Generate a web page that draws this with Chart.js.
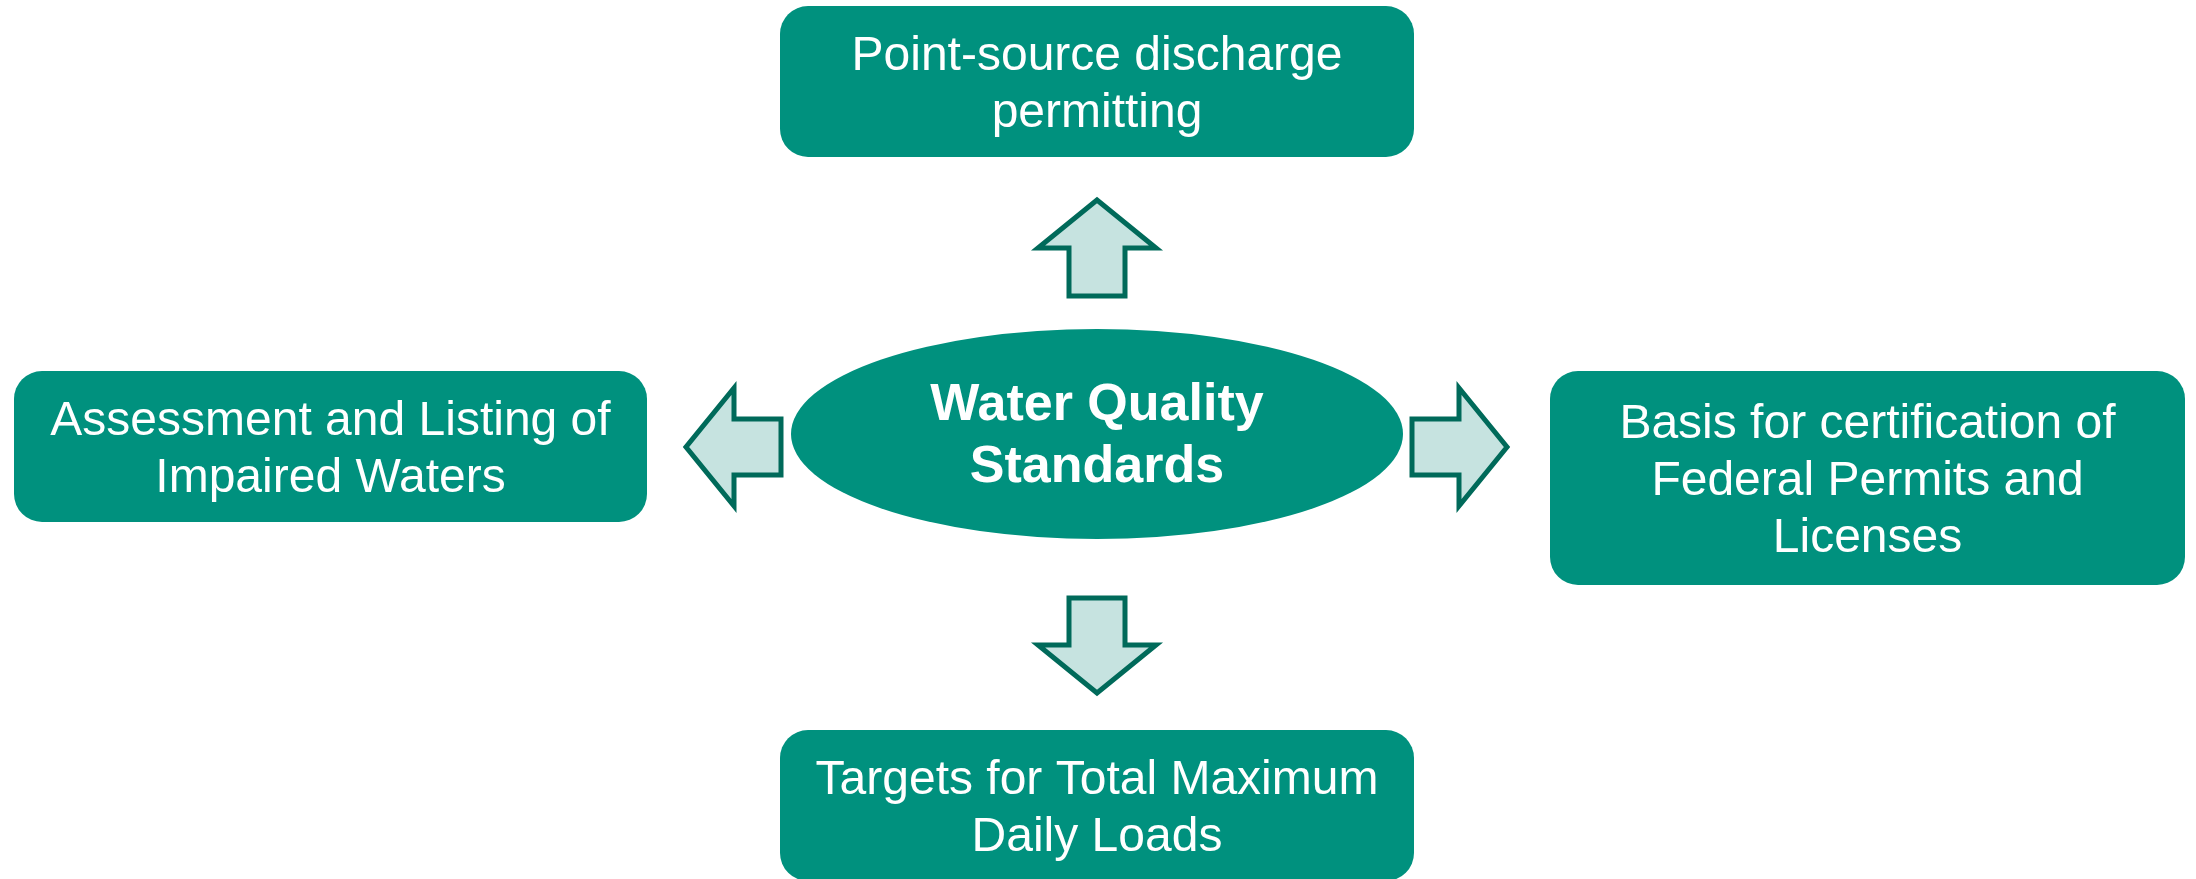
<!DOCTYPE html>
<html>
<head>
<meta charset="utf-8">
<script src="https://cdn.jsdelivr.net/npm/chart.js@4/dist/chart.umd.min.js"></script>
<style>
  html, body { margin: 0; padding: 0; background: #ffffff; overflow: hidden; }
  #wrap { width: 2196px; height: 879px; }
</style>
</head>
<body>
<div id="wrap"><canvas id="c" width="2196" height="879"></canvas></div>
<script>
// ---- Content (text of the diagram) ----
const centerLines = ["Water Quality", "Standards"];
const nodeTitles = ["top", "left", "right", "bottom"];
const nodeLines = [
  ["Point-source discharge", "permitting"],
  ["Assessment and Listing of", "Impaired Waters"],
  ["Basis for certification of", "Federal Permits and", "Licenses"],
  ["Targets for Total Maximum", "Daily Loads"]
];
const arrowDirections = ["up", "left", "right", "down"];

// ---- Layout (diagram units = scale values) ----
const boxX0 = [780, 14, 1550, 780];
const boxX1 = [1414, 647, 2185, 1414];
const boxY0 = [6, 371, 371, 730];
const boxY1 = [157, 522, 585, 881];
const ellipseCenter = [1097, 434];
const ellipseRadii = [306, 105];
// arrows: [base-center x, base-center y, tip x, tip y]
const arrowGeom = [
  [1097, 296, 1097, 200],
  [781, 447, 686, 447],
  [1412, 447, 1507, 447],
  [1097, 598, 1097, 693]
];
const arrowHeadLen = 48;
const arrowHalfShaft = 28;
const arrowHalfHead = 59;

const style = {
  boxFill: "#00917E",
  textColor: "#ffffff",
  arrowFill: "#C6E3E0",
  arrowStroke: "#006A5A",
  font: '"Liberation Sans", Arial, sans-serif'
};

const diagramPlugin = {
  id: "diagram",
  afterDatasetsDraw(chart) {
    const ctx = chart.ctx;
    const xs = chart.scales.x, ys = chart.scales.y;
    const px = v => xs.getPixelForValue(v);
    const py = v => ys.getPixelForValue(v);
    ctx.save();

    // boxes
    nodeLines.forEach((lines, i) => {
      const x0 = px(boxX0[i]), x1 = px(boxX1[i]);
      const y0 = py(boxY0[i]), y1 = py(boxY1[i]);
      ctx.beginPath();
      ctx.roundRect(x0, y0, x1 - x0, y1 - y0, 28);
      ctx.fillStyle = style.boxFill;
      ctx.fill();
      ctx.fillStyle = style.textColor;
      ctx.font = "48px " + style.font;
      ctx.textAlign = "center";
      ctx.textBaseline = "alphabetic";
      const cx = (x0 + x1) / 2, cy = (y0 + y1) / 2;
      const lh = 57;
      lines.forEach((t, k) => {
        ctx.fillText(t, cx, cy + (k - (lines.length - 1) / 2) * lh + 16.5);
      });
    });

    // ellipse
    const ex = px(ellipseCenter[0]), ey = py(ellipseCenter[1]);
    const erx = px(ellipseCenter[0] + ellipseRadii[0]) - ex;
    const ery = py(ellipseCenter[1] + ellipseRadii[1]) - ey;
    ctx.beginPath();
    ctx.ellipse(ex, ey, Math.abs(erx), Math.abs(ery), 0, 0, Math.PI * 2);
    ctx.fillStyle = style.boxFill;
    ctx.fill();
    ctx.fillStyle = style.textColor;
    ctx.font = "bold 52px " + style.font;
    ctx.textAlign = "center";
    ctx.textBaseline = "alphabetic";
    centerLines.forEach((t, k) => {
      ctx.fillText(t, ex, ey + (k - 0.5) * 62 + 17);
    });

    // arrows
    arrowGeom.forEach(g => {
      const bx = px(g[0]), by = py(g[1]), tx = px(g[2]), ty = py(g[3]);
      const dx = tx - bx, dy = ty - by;
      const len = Math.hypot(dx, dy);
      const ux = dx / len, uy = dy / len;
      const nx = -uy, ny = ux;
      const hb = len - arrowHeadLen;
      const P = (a, b) => [bx + ux * a + nx * b, by + uy * a + ny * b];
      const pts = [
        P(0, -arrowHalfShaft), P(hb, -arrowHalfShaft), P(hb, -arrowHalfHead),
        P(len, 0),
        P(hb, arrowHalfHead), P(hb, arrowHalfShaft), P(0, arrowHalfShaft)
      ];
      ctx.beginPath();
      pts.forEach((p, i) => i ? ctx.lineTo(p[0], p[1]) : ctx.moveTo(p[0], p[1]));
      ctx.closePath();
      ctx.fillStyle = style.arrowFill;
      ctx.fill();
      ctx.lineWidth = 5;
      ctx.lineJoin = "miter";
      ctx.strokeStyle = style.arrowStroke;
      ctx.stroke();
    });

    ctx.restore();
  }
};

const nodePoints = nodeTitles.map((n, i) => ({
  x: (boxX0[i] + boxX1[i]) / 2,
  y: (boxY0[i] + boxY1[i]) / 2
}));

new Chart(document.getElementById("c"), {
  type: "scatter",
  data: {
    datasets: [{
      label: "nodes",
      data: nodePoints,
      pointRadius: 0,
      pointHoverRadius: 0
    }]
  },
  options: {
    responsive: false,
    devicePixelRatio: 1,
    animation: false,
    layout: { padding: 0 },
    plugins: { legend: { display: false }, tooltip: { enabled: false } },
    scales: {
      x: { type: "linear", min: 0, max: 2196, display: false },
      y: { type: "linear", min: 0, max: 879, reverse: true, display: false }
    }
  },
  plugins: [diagramPlugin]
});
</script>
</body>
</html>
